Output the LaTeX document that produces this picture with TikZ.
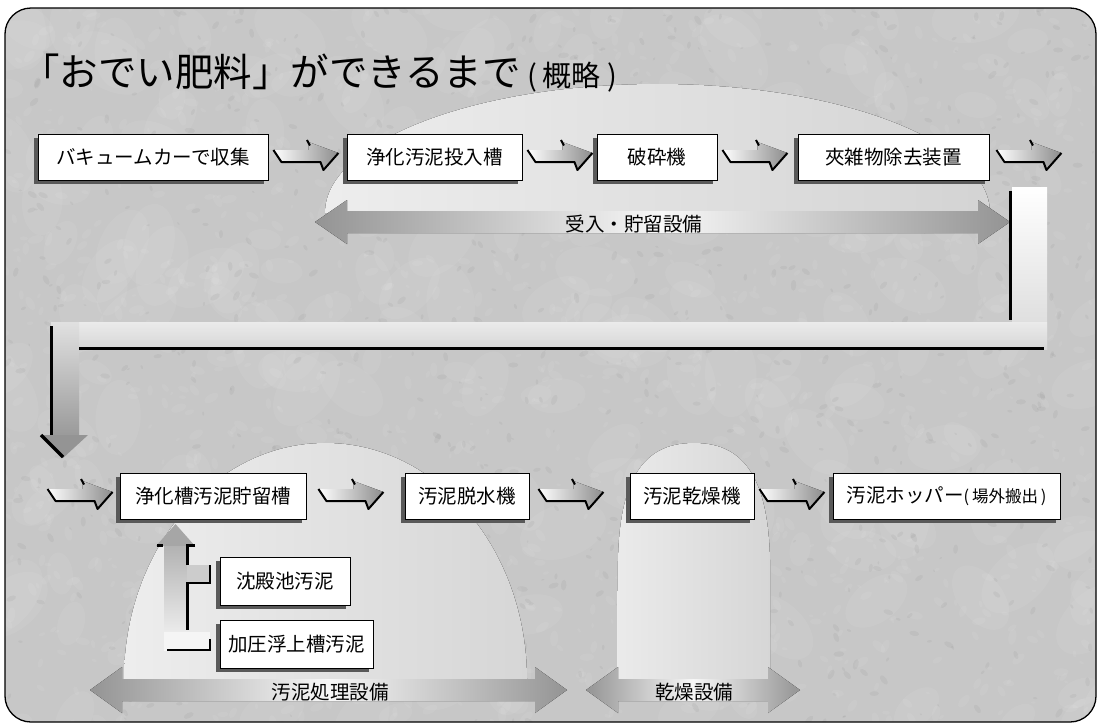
\documentclass[tikz,border=0pt]{standalone}
\usepackage{fontspec}
\setmainfont{Noto Sans CJK JP}
\usetikzlibrary{shadows,calc}
\begin{document}
\begin{tikzpicture}[x=1pt,y=-1pt,
  box/.style={draw=black, line width=0.9pt, fill=white, minimum height=46pt, inner sep=0pt,
    font=\fontsize{19.5}{19.5}\selectfont,
    drop shadow={shadow xshift=-4pt, shadow yshift=-4pt, fill=black!65, opacity=1}},
  sbox/.style={box, minimum height=48pt},
  lbl/.style={font=\fontsize{19.5}{19.5}\selectfont, inner sep=0pt},
  blk/.style={draw=black, line width=2.5pt},
  chev/.pic={
    \fill[left color=white, right color=black!45] (0,0) -- (35,0) -- (35,-8) -- (65,3) -- (50,20) -- (47,12) -- (8,12) -- cycle;
    \draw[line width=2pt, line join=round] (0,0) -- (8,12) -- (47,12) -- (50,20) -- (65,3);
    \draw[line width=2pt] (33.5,-10) -- (36.5,-4.5);
  }
]
\useasboundingbox (0,0) rectangle (1099,726);
\fill[white] (0,0) rectangle (1099,726);
% background with texture
\begin{scope}
  \clip[rounded corners=26pt] (5,8) rectangle (1096,722);
  \fill[black!22] (0,0) rectangle (1099,726);
  \pgfmathsetseed{42}
  \foreach \i in {1,...,220}{
    \pgfmathsetmacro{\px}{1099*rnd}
    \pgfmathsetmacro{\py}{726*rnd}
    \pgfmathsetmacro{\pr}{15+30*rnd}
    \pgfmathsetmacro{\pa}{180*rnd}
    \fill[white,opacity=0.06,rotate around={\pa:(\px,\py)}] (\px,\py) ellipse[x radius=\pr pt, y radius=0.6*\pr pt];
  }
  \foreach \i in {1,...,1400}{
    \pgfmathsetmacro{\px}{1099*rnd}
    \pgfmathsetmacro{\py}{726*rnd}
    \pgfmathsetmacro{\pr}{2+6*rnd}
    \pgfmathsetmacro{\pa}{180*rnd}
    \fill[white,opacity=0.07,rotate around={\pa:(\px,\py)}] (\px,\py) ellipse[x radius=\pr pt, y radius=0.5*\pr pt];
  }
  \foreach \i in {1,...,900}{
    \pgfmathsetmacro{\px}{1099*rnd}
    \pgfmathsetmacro{\py}{726*rnd}
    \pgfmathsetmacro{\pr}{1.5+4*rnd}
    \pgfmathsetmacro{\pa}{180*rnd}
    \fill[black,opacity=0.04,rotate around={\pa:(\px,\py)}] (\px,\py) ellipse[x radius=\pr pt, y radius=0.5*\pr pt];
  }
\end{scope}
\draw[line width=1.3pt, rounded corners=26pt] (5,8) rectangle (1096,722);

% domes
\fill[left color=black!7, right color=black!17] (325,213) .. controls (325,142) and (474,84) .. (657.5,84) .. controls (841,84) and (990,142) .. (990,213) -- cycle;
\fill[left color=black!7, right color=black!16] (124,680) .. controls (124,549) and (214,443) .. (325.5,443) .. controls (437,443) and (527,549) .. (527,680) -- cycle;
\fill[left color=black!8, right color=black!16] (617,680) -- (618,560) .. controls (620,472) and (648,443) .. (694,443) .. controls (740,443) and (768,472) .. (770,560) -- (770,680) -- cycle;

% range arrows
\fill[left color=black!42, right color=black!42, middle color=black!3]
  (315,222) -- (347,200) -- (347,211) -- (978,211) -- (978,200) -- (1010,222) -- (978,244) -- (978,233) -- (347,233) -- (347,244) -- cycle;
\fill[left color=black!42, right color=black!42, middle color=black!3]
  (90,690) -- (122,667) -- (122,679) -- (535,679) -- (535,667) -- (567,690) -- (535,713) -- (535,701) -- (122,701) -- (122,713) -- cycle;
\fill[left color=black!42, right color=black!42, middle color=black!3]
  (586,690) -- (618,667) -- (618,679) -- (768,679) -- (768,667) -- (800,690) -- (768,713) -- (768,701) -- (618,701) -- (618,713) -- cycle;

% big L connector
\fill[top color=white, bottom color=black!15] (1012,187) rectangle (1047,349);
\fill[top color=black!8, bottom color=black!16] (51,322) rectangle (1047,349);
\fill[top color=black!12, bottom color=black!40] (51,322) rectangle (79,437);
\fill[black!42] (40,435) -- (88,435) -- (63,458) -- cycle;
\draw[line width=3pt] (1010.5,191) -- (1010.5,320);
\draw[line width=3pt] (79,348.5) -- (1044,348.5);
\draw[line width=3pt] (51.5,326) -- (51.5,435);
\draw[line width=3.5pt] (41,435) -- (63,457);

% feed arrow
\fill[black!35] (156,546) -- (195,546) -- (175.5,524) -- cycle;
\fill[top color=black!30, bottom color=black!3] (164,546) rectangle (187,650);
\fill[black!20] (187,565) rectangle (210,583);
\fill[black!4] (164,632) rectangle (210,650);
\draw[blk] (157,545.5) -- (163,545.5);
\draw[blk] (195,545.5) -- (187.5,545.5) -- (187.5,565);
\draw[blk] (210,565) -- (210,583) -- (187.5,583) -- (187.5,630);
\draw[blk] (167,650) -- (210,650) -- (210,639);

% title
\node[anchor=base west, inner sep=0pt, font=\fontsize{38.5}{38.5}\selectfont] (title) at (21,86) {「おでい肥料」ができるまで};
\node[anchor=base west, inner sep=0pt, font=\fontsize{29}{29}\selectfont] (sub) at ($(title.base east)+(6,0)$) {(\hspace{5pt}概略\hspace{7pt})};

% boxes
\node[box, minimum width=230pt] (b1) at (153,157) {バキュームカーで収集};
\node[box, minimum width=175pt] (b2) at (434.5,157) {浄化汚泥投入槽};
\node[box, minimum width=120pt] (b3) at (657,157) {破砕機};
\node[box, minimum width=191pt] (b4) at (893.5,157) {夾雑物除去装置};
\node[box, minimum width=186pt] (b5) at (213,496) {浄化槽汚泥貯留槽};
\node[box, minimum width=124pt] (b6) at (467,496) {汚泥脱水機};
\node[box, minimum width=124pt] (b7) at (692,496) {汚泥乾燥機};
\node[box, minimum width=227pt] (b8) at (946.5,496) {汚泥ホッパー{\fontsize{16.5}{16.5}\selectfont(\,場外搬出\,)}};
\node[sbox, minimum width=130pt] (s1) at (285,581) {沈殿池汚泥};
\node[sbox, minimum width=153pt] (s2) at (296.5,644) {加圧浮上槽汚泥};

% chevrons
\pic at ($(b1.east)+(5,-7)$) {chev};
\pic at ($(b2.east)+(5,-7)$) {chev};
\pic at ($(b3.east)+(5,-7)$) {chev};
\pic at ($(b4.east)+(7,-7)$) {chev};
\pic at ($(b5.west)+(-72,-7)$) {chev};
\pic at ($(b5.east)+(12,-7)$) {chev};
\pic at ($(b6.east)+(9,-7)$) {chev};
\pic at ($(b7.east)+(5,-7)$) {chev};

% range labels
\node[lbl] (tA) at (634,224) {受入・貯留設備};
\node[lbl] (tB) at (330,692) {汚泥処理設備};
\node[lbl] (tC) at (694,692) {乾燥設備};
\end{tikzpicture}
\end{document}
